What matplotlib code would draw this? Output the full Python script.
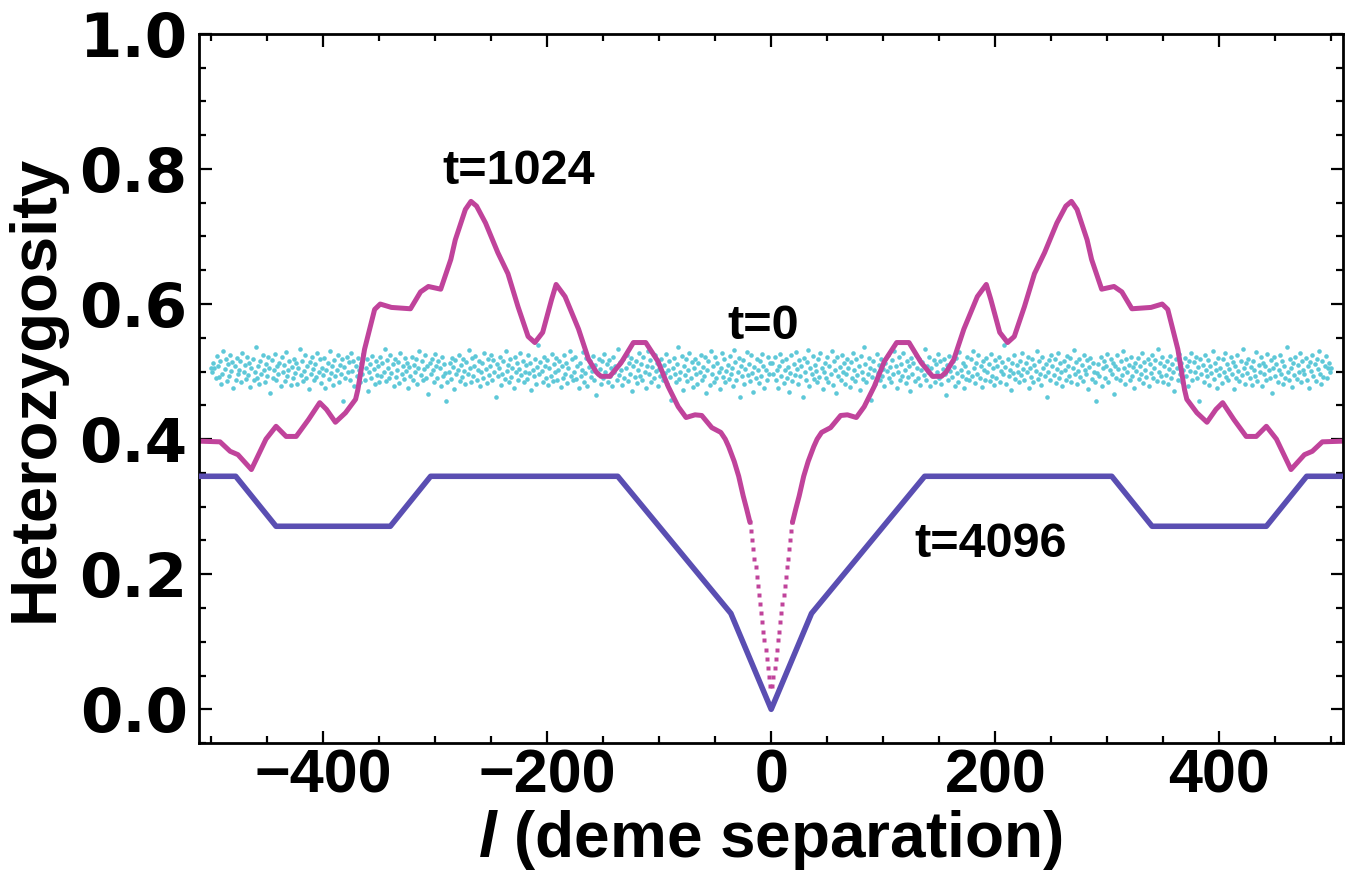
import numpy as np
import matplotlib
matplotlib.use("Agg")
import matplotlib.pyplot as plt
from matplotlib.ticker import MultipleLocator

plt.rcParams["font.family"] = ["Liberation Sans", "DejaVu Sans"]
plt.rcParams["font.weight"] = "bold"
plt.rcParams["mathtext.fontset"] = "custom"
plt.rcParams["mathtext.it"] = "Liberation Sans:italic:bold"

# t=0: heterozygosity for l = 1..500 (curve is mirror symmetric in l)
h_t0 = np.array([
    512, 497, 521, 488, 503, 476, 509, 526, 494, 515, 483, 502, 519, 491, 507, 470, 498, 524, 486, 511, 495, 529, 504, 481, 517,
    493, 508, 462, 520, 499, 487, 514, 532, 478, 505, 496, 523, 489, 510, 501, 484, 518, 492, 527, 506, 474, 500, 513, 490, 522,
    485, 509, 497, 531, 480, 516, 503, 468, 521, 494, 507, 488, 525, 499, 512, 482, 496, 519, 505, 477, 514, 491, 528, 502, 486,
    518, 495, 508, 473, 523, 500, 489, 536, 511, 484, 497, 520, 506, 458, 492, 515, 503, 481, 526, 498, 510, 487, 519, 494, 504,
    479, 513, 501, 524, 490, 507, 485, 517, 496, 530, 508, 476, 499, 521, 488, 511, 494, 527, 503, 483, 516, 492, 509, 471, 520,
    497, 512, 486, 525, 505, 491, 518, 480, 502, 514, 495, 533, 487, 509, 499, 522, 478, 506, 493, 517, 484, 511, 500, 526, 490,
    515, 482, 504, 519, 496, 465, 510, 488, 523, 501, 492, 516, 507, 479, 520, 498, 485, 529, 503, 494, 513, 475, 508, 489, 521,
    500, 487, 518, 494, 531, 506, 483, 512, 497, 524, 490, 509, 477, 515, 502, 488, 520, 499, 511, 486, 526, 493, 505, 480, 517,
    491, 508, 522, 485, 501, 514, 496, 539, 507, 482, 519, 494, 503, 473, 512, 498, 525, 489, 510, 500, 484, 516, 495, 528, 504,
    487, 513, 499, 521, 476, 506, 492, 518, 484, 510, 501, 530, 489, 515, 497, 480, 522, 505, 493, 511, 463, 500, 517, 488, 524,
    508, 495, 519, 483, 504, 527, 491, 512, 499, 478, 516, 502, 487, 523, 509, 494, 520, 485, 506, 532, 497, 514, 481, 501, 518,
    492, 510, 486, 525, 503, 496, 517, 474, 507, 520, 489, 513, 500, 484, 456, 498, 511, 493, 521, 479, 505, 515, 490, 508, 526,
    485, 502, 519, 497, 512, 467, 509, 491, 524, 504, 488, 516, 495, 531, 506, 482, 518, 499, 510, 487, 522, 494, 507, 476, 513,
    501, 520, 489, 508, 496, 527, 483, 514, 503, 492, 519, 478, 511, 498, 525, 490, 505, 517, 486, 534, 500, 512, 493, 521, 484,
    509, 495, 516, 481, 504, 523, 490, 511, 499, 472, 518, 506, 487, 526, 497, 513, 484, 502, 520, 494, 508, 479, 515, 501, 528,
    488, 514, 500, 522, 491, 507, 456, 519, 496, 510, 485, 525, 503, 493, 517, 480, 509, 498, 530, 489, 512, 502, 476, 520, 495,
    506, 483, 518, 499, 527, 492, 511, 487, 504, 521, 497, 514, 474, 508, 490, 524, 501, 486, 516, 495, 533, 505, 482, 512, 498,
    519, 490, 507, 480, 515, 503, 494, 529, 486, 510, 500, 522, 478, 513, 496, 508, 488, 526, 502, 491, 517, 469, 506, 521, 493,
    511, 485, 503, 524, 497, 516, 482, 509, 491, 537, 500, 487, 519, 506, 477, 513, 495, 522, 489, 510, 499, 527, 484, 515, 502,
    496, 520, 488, 508, 475, 514, 501, 525, 493, 511, 486, 518, 504, 530, 497, 481, 516, 492, 509, 523, 490, 506, 513, 499, 505,
]) / 1000.0
l_t0 = np.arange(1, len(h_t0) + 1)

# t=1024: steep centre drawn as separate points, rest as a line (right half)
l_1024_pts = np.arange(1, 20)
h_1024_pts = [0.034, 0.048, 0.061, 0.075, 0.088, 0.102, 0.115, 0.129, 0.142, 0.156,
              0.169, 0.183, 0.196, 0.210, 0.223, 0.237, 0.250, 0.264, 0.277]
l_1024 = np.array([19, 22, 25, 29, 33, 38, 41, 45, 53, 62, 68, 76, 83, 92, 101, 112, 123, 134,
                   144, 152, 156, 163, 172, 184, 192, 196, 204, 211, 217, 226, 235, 244, 255,
                   263, 268, 273, 282, 286, 295, 306, 313, 322, 339, 349, 354, 363, 369, 371,
                   380, 389, 397, 403, 413, 424, 433, 442, 451, 464, 476, 483, 492, 510])
h_1024 = [0.277, 0.297, 0.316, 0.345, 0.367, 0.389, 0.400, 0.410, 0.417, 0.435, 0.436, 0.432,
          0.448, 0.478, 0.515, 0.543, 0.543, 0.513, 0.493, 0.493, 0.499, 0.518, 0.563, 0.611,
          0.629, 0.607, 0.558, 0.543, 0.552, 0.596, 0.645, 0.676, 0.720, 0.745, 0.752, 0.740,
          0.695, 0.666, 0.622, 0.626, 0.618, 0.593, 0.595, 0.600, 0.592, 0.533, 0.473, 0.459,
          0.439, 0.425, 0.444, 0.454, 0.429, 0.404, 0.404, 0.419, 0.400, 0.355, 0.377, 0.382,
          0.396, 0.397]

# t=4096: piecewise linear (right half)
l_4096 = np.array([0, 36, 137, 304, 340, 442, 478, 510])
h_4096 = [0.0, 0.142, 0.345, 0.345, 0.271, 0.271, 0.345, 0.345]

c_t0 = "#5ec8d8"
c_1024 = "#c0439b"
c_4096 = "#5a4eb2"


def mirror(l, h):
    l = np.asarray(l)
    h = np.asarray(h)
    return np.concatenate([-l[::-1], l]), np.concatenate([h[::-1], h])


fig = plt.figure(figsize=(13.52, 8.91), dpi=100)
ax = fig.add_axes([0.147, 0.166, 0.846, 0.796])

# t=0 scatter
x0, y0 = mirror(l_t0, h_t0)
ax.plot(x0, y0, "o", ms=3.3, mec="none", color=c_t0, zorder=1)

# t=1024
for s in (-1, 1):
    ax.plot(s * l_1024, h_1024, "-", lw=3.6, color=c_1024, zorder=2,
            solid_joinstyle="round", solid_capstyle="round")
    ax.plot(s * l_1024_pts, h_1024_pts, "s", ms=3.3, mec="none", color=c_1024, zorder=2)

# t=4096
x4, y4 = mirror(l_4096[1:], h_4096[1:])
x4 = np.insert(x4, len(x4) // 2, 0)
y4 = np.insert(y4, len(y4) // 2, h_4096[0])
ax.plot(x4, y4, "-", lw=4.0, color=c_4096, zorder=3)

ax.text(-225, 0.796, "t=1024", fontsize=35, fontweight="bold", ha="center", va="center")
ax.text(-7, 0.567, "t=0", fontsize=35, fontweight="bold", ha="center", va="center")
ax.text(196, 0.244, "t=4096", fontsize=35, fontweight="bold", ha="center", va="center")

ax.set_xlim(-511, 510)
ax.set_ylim(-0.05, 1.0)
ax.xaxis.set_major_locator(MultipleLocator(200))
ax.xaxis.set_minor_locator(MultipleLocator(50))
ax.yaxis.set_major_locator(MultipleLocator(0.2))
ax.yaxis.set_minor_locator(MultipleLocator(0.05))
ax.yaxis.set_major_formatter(matplotlib.ticker.FormatStrFormatter("%.1f"))

ax.tick_params(which="both", direction="in", top=True, right=True, width=1.6)
ax.tick_params(which="major", length=9)
ax.tick_params(which="minor", length=5)
ax.tick_params(axis="y", which="major", labelsize=44, pad=8)
ax.tick_params(axis="x", which="major", labelsize=44, pad=4)
for lab in ax.get_yticklabels():
    lab.set_family("DejaVu Sans")
    lab.set_weight("bold")
for sp in ax.spines.values():
    sp.set_linewidth(2.0)

ax.set_xlabel(r"$\it{l}$ (deme separation)", fontsize=46, fontweight="bold", labelpad=2)
ax.set_ylabel("Heterozygosity", fontsize=47, fontweight="bold", labelpad=10)

fig.savefig("out.png", dpi=100)
plt.close(fig)
